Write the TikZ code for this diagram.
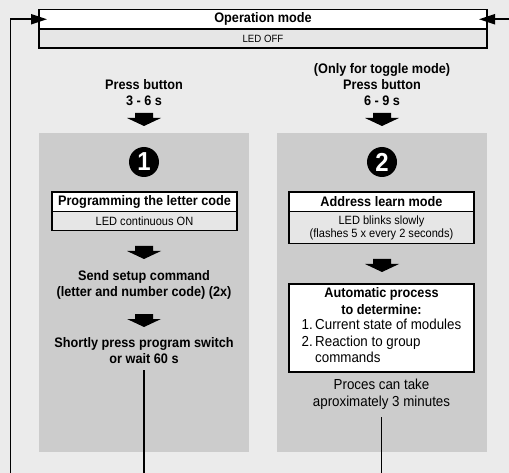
\documentclass[tikz,border=0pt]{standalone}
\usepackage{fontspec}
\setmainfont{Liberation Sans}[FakeStretch=0.92]
\usetikzlibrary{arrows.meta,positioning}
\definecolor{bggray}{HTML}{EBEBEB}
\definecolor{panelgray}{HTML}{CCCCCC}
\definecolor{rowgray}{HTML}{E6E6E6}

\begin{document}
\begin{tikzpicture}[
  x=1pt, y=-1pt,
  titlerow/.style={draw, line width=1.6pt, fill=white, outer sep=0pt, inner sep=0pt, minimum height=19.5pt, align=center, font=\fontsize{13.8}{16}\selectfont\bfseries},
  staterow/.style={draw, line width=1.6pt, fill=rowgray, outer sep=0pt, inner sep=0pt, align=center, font=\fontsize{12}{12.8}\selectfont},
  panel/.style={fill=panelgray, minimum width=210pt, minimum height=319pt, inner sep=0pt, anchor=north},
  numdot/.style={circle, fill=black, text=white, minimum size=30pt, inner sep=0pt, font=\fontsize{26}{26}\selectfont\bfseries},
  heading/.style={align=center, inner sep=0pt, font=\fontsize{13.8}{16}\selectfont\bfseries},
  note/.style={align=center, inner sep=0pt, font=\fontsize{14.5}{17}\selectfont},
  feed/.style={line width=1.8pt},
  feedarr/.style={feed, -{Triangle[length=16pt, width=10pt]}, shorten >=-8pt},
  downarrow/.pic={\fill (-9,0) -- (9,0) -- (9,5) -- (17,5) -- (0,13) -- (-17,5) -- (-9,5) -- cycle;}
]
\path[fill=bggray, use as bounding box] (0,0) rectangle (509,473);

% Operation mode
\node[titlerow, minimum width=448pt, anchor=north] (opmode) at (263,9.5) {Operation mode};
\node[staterow, font=\fontsize{10.5}{12}\selectfont, minimum width=448pt, minimum height=19pt, below=0pt of opmode] (opled) {LED OFF};

\node[heading] (press1) at (144,93) {Press button\\3 - 6 s};
\node[heading] (press2) at (382,85) {(Only for toggle mode)\\Press button\\6 - 9 s};
\pic at (144,113) {downarrow};
\pic at (382,113) {downarrow};

\node[panel] (panel1) at (144,133) {};
\node[panel] (panel2) at (382,133) {};
\node[numdot] (num1) at (144,162) {1};
\node[numdot] (num2) at (382,162) {2};

% Letter code
\node[titlerow, minimum width=185pt, anchor=north] (prog) at (144.5,192) {Programming the letter code};
\node[staterow, minimum width=185pt, minimum height=19pt, below=0pt of prog] (progled) {LED continuous ON};
\pic at (144,246) {downarrow};
\node[heading] (send) at (144,285) {Send setup command\\(letter and number code) (2x)};
\pic at (144,314) {downarrow};
\node[heading] (wait) at (144,351) {Shortly press program switch\\or wait 60 s};

% Address learning
\node[titlerow, minimum width=185pt, anchor=north] (learn) at (381.5,192) {Address learn mode};
\node[staterow, minimum width=185pt, minimum height=32pt, below=0pt of learn] (learnled) {LED blinks slowly\\(flashes 5 x every 2 seconds)};
\pic at (382,259) {downarrow};
\node[draw, fill=white, line width=1.6pt, minimum width=185pt, minimum height=88pt, anchor=north, align=center, inner sep=0pt, font=\fontsize{14.5}{16.5}\selectfont] (auto) at (381.5,283) {{\bfseries\fontsize{13.8}{16}\selectfont Automatic process}\\{\bfseries\fontsize{13.8}{16}\selectfont to determine:}\\[3pt]
\begin{tabular}{@{}l@{\,}l@{}}1.&Current state of modules\\2.&Reaction to group\\&commands\end{tabular}};
\node[note] (takes) at (381.5,394) {Proces can take\\aproximately 3 minutes};

\coordinate (lbot) at (10.5,473);
\coordinate (rtop) at (509,19.25);
\draw[feedarr] (lbot) |- (opmode.west);
\draw[feedarr] (rtop) -- (opmode.east);
\draw[feed] ([yshift=-6pt]wait.south) -- (wait.south |- lbot);
\draw[feed] ([yshift=-8pt]takes.south) -- (takes.south |- lbot);

\end{tikzpicture}
\end{document}
